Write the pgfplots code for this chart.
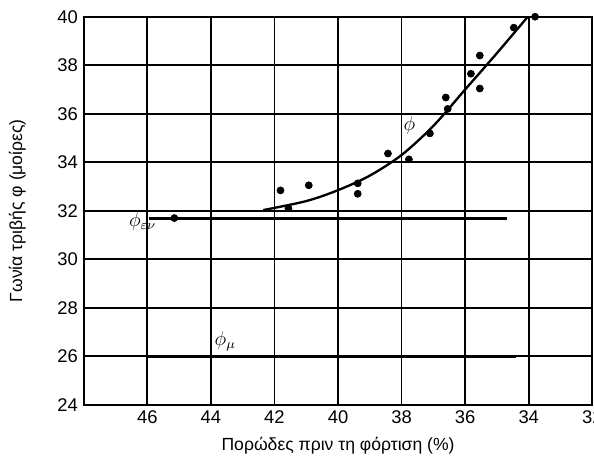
\documentclass[border=0pt]{standalone}
\usepackage{pgfplots}
\pgfplotsset{compat=1.18}
\usepackage{fontspec}
\setmainfont{Liberation Sans}

\begin{document}
\begin{tikzpicture}
\begin{axis}[
    width=304pt, height=232pt,
    scale only axis,
    x dir=reverse,
    xmin=32, xmax=48, ymin=24, ymax=40,
    xtick={32,34,...,46}, ytick={24,26,...,40},
    grid=major,
    major grid style={draw=black, line width=1pt},
    axis line style={black, line width=1.3pt},
    major tick length=0pt,
    ticklabel style={font=\fontsize{11}{13}\selectfont},
    /pgf/number format/assume math mode=true,
    xlabel={Πορώδες πριν τη φόρτιση (\%)},
    ylabel={Γωνία τριβής φ (μοίρες)},
    label style={font=\fontsize{10.5}{12}\selectfont},
    xlabel style={yshift=-1pt},
    ylabel style={yshift=12pt},
    clip=false,
]
% measured points
\addplot[only marks, mark=*, mark size=2.1pt, black] coordinates {
    (33.8,40.0) (34.47,39.55) (35.54,38.4) (35.82,37.65) (35.54,37.04)
    (36.61,36.67) (36.55,36.2) (37.11,35.19) (37.77,34.12) (38.43,34.36)
    (39.38,33.13) (39.38,32.7) (40.92,33.05) (41.81,32.84) (41.56,32.1)
    (45.15,31.7)
};
% fitted curve
\addplot[smooth, black, line width=1.4pt] coordinates {
    (42.35,32.03) (41.0,32.4) (40.0,32.85) (39.0,33.45) (38.0,34.3)
    (37.0,35.5) (36.0,37.0) (35.0,38.5) (34.03,40.0)
};
% phi_ev and phi_mu
\addplot[black, line width=1.8pt] coordinates {(45.95,31.7) (34.7,31.7)};
\addplot[black, line width=1.8pt] coordinates {(46,26) (34.4,26)};
\node[font=\large] at (axis cs:46.15,31.55) {$\phi_{\varepsilon\nu}$};
\node[font=\large] at (axis cs:43.55,26.6) {$\phi_{\mu}$};
\node[font=\large] at (axis cs:37.75,35.5) {$\phi$};
\end{axis}
\pgfresetboundingbox
\path[use as bounding box] ([xshift=-2pt]current axis.outer south west)
    rectangle ([xshift=1pt,yshift=10pt]current axis.north east);
\end{tikzpicture}
\end{document}
